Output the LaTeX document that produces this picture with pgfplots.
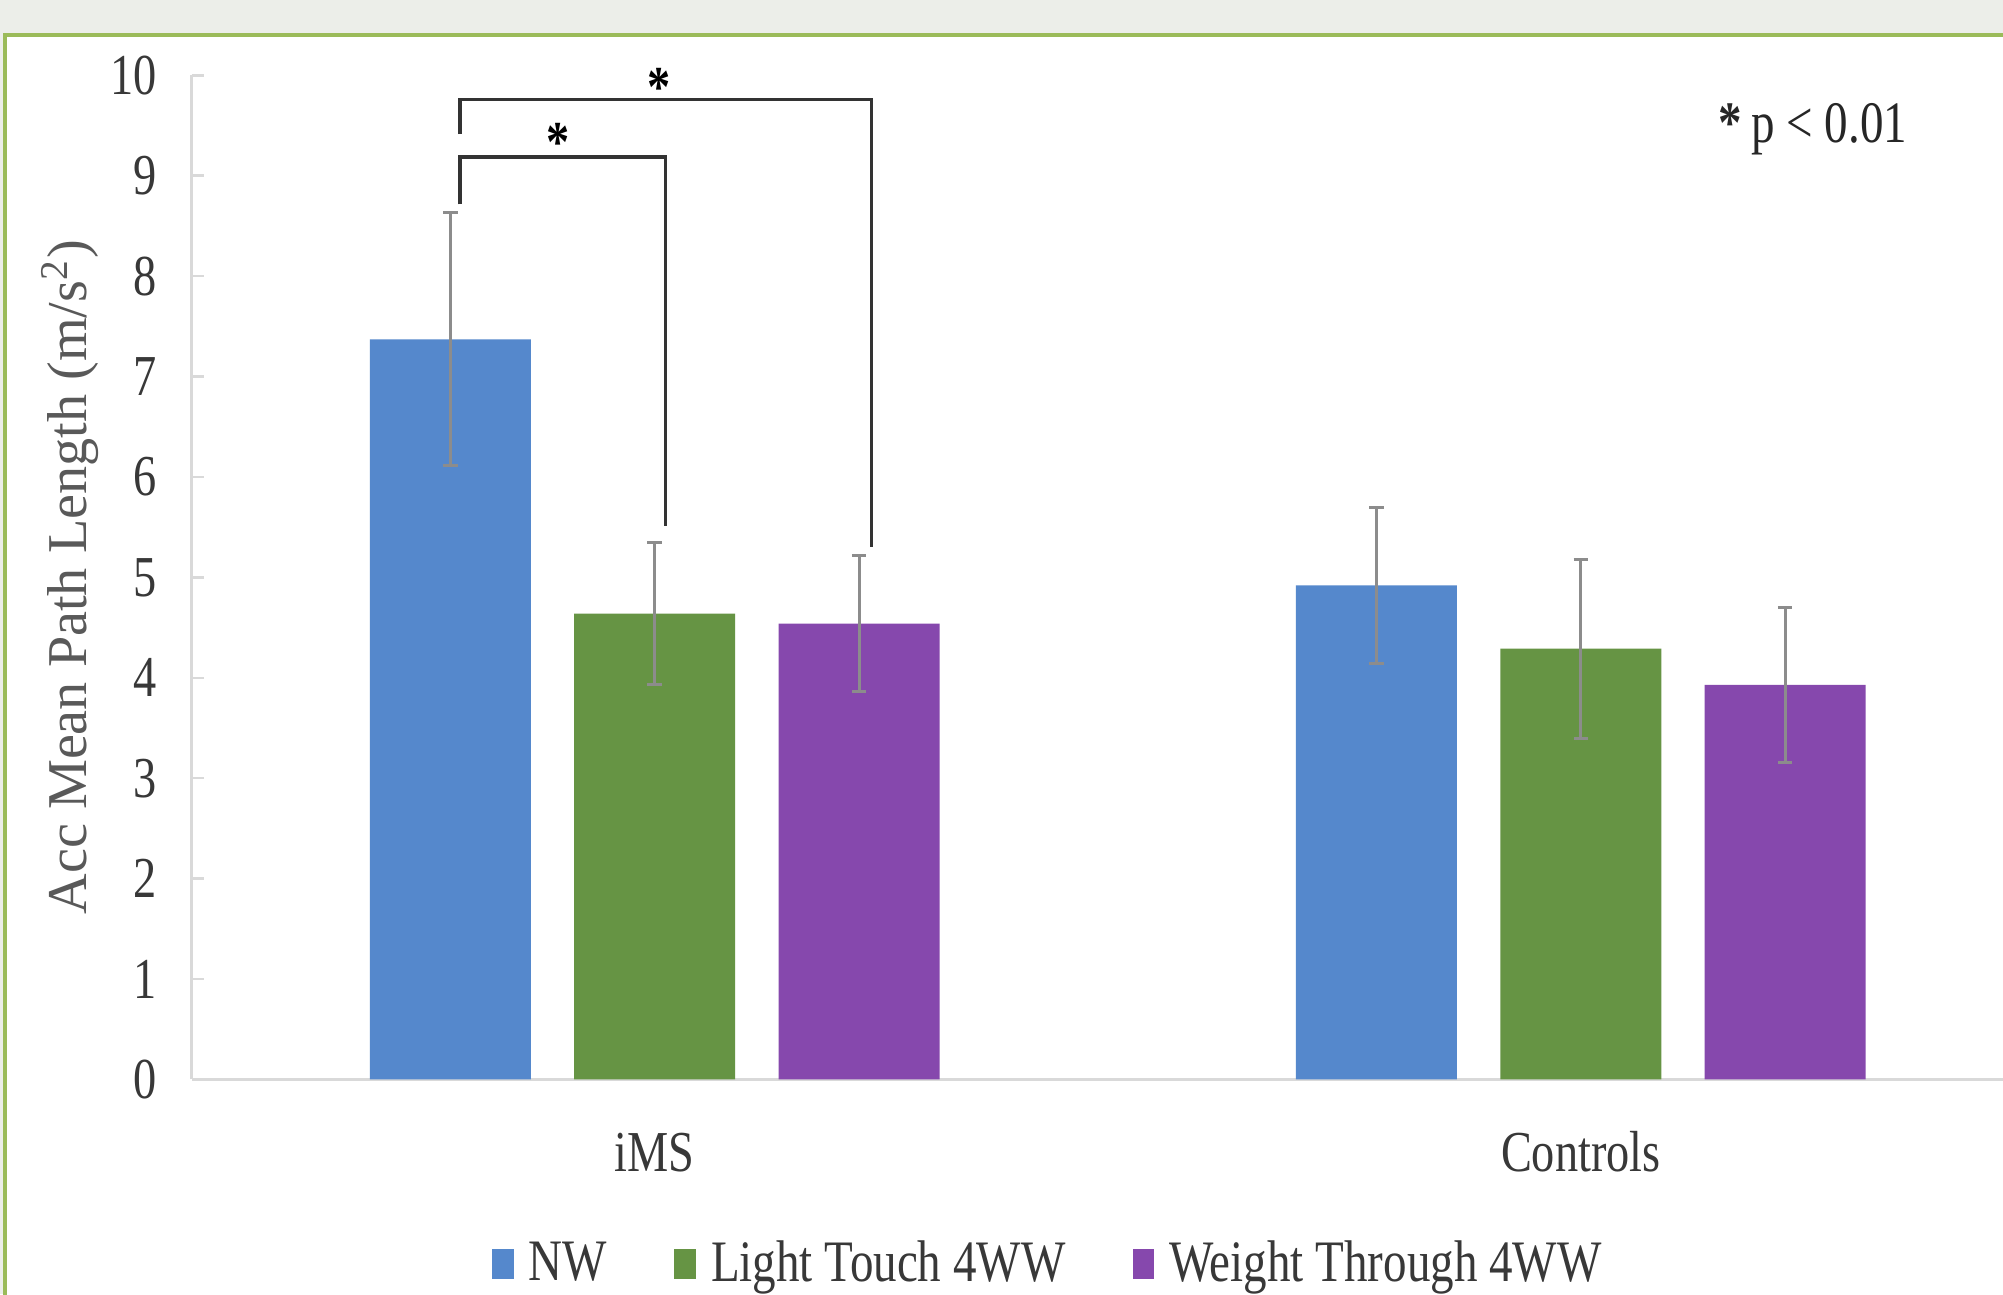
\documentclass[border=0pt]{standalone}
\usepackage{fontspec}
\setmainfont[FakeStretch=0.8]{Liberation Serif}
\newfontfamily\ylabfont{Liberation Serif}
\usepackage{pgfplots}
\pgfplotsset{compat=1.18}
\definecolor{bggray}{HTML}{ECEEE9}
\definecolor{framegreen}{HTML}{9BBB59}
\definecolor{cNW}{HTML}{5588CC}
\definecolor{cLT}{HTML}{669444}
\definecolor{cWT}{HTML}{8648AD}
\definecolor{txt}{HTML}{383838}
\definecolor{ylgray}{HTML}{595959}
\definecolor{axgray}{HTML}{D9D9D9}
\definecolor{errgray}{HTML}{8C8C8C}
\newcommand{\fs}{\fontsize{13.6pt}{15pt}\selectfont}
\begin{document}
\begin{tikzpicture}
\useasboundingbox (0,0) rectangle (470.4pt,303.9pt);
\fill[bggray] (0,0) rectangle (470.4pt,303.9pt);
\fill[white] (1.2pt,-2pt) rectangle (472pt,295.7pt);
\draw[framegreen, line width=0.8pt] (1.2pt,-2pt) -- (1.2pt,295.7pt) -- (472pt,295.7pt);
\begin{axis}[
  at={(45pt,50.4pt)}, anchor=south west,
  scale only axis, width=425.4pt, height=235.8pt,
  xmin=-0.5, xmax=1.4559, ymin=0, ymax=10,
  clip=false,
  axis x line=bottom, axis y line=left,
  axis line style={axgray, line width=0.6pt, -},
  ybar=10.2pt, bar width=37.8pt,
  xtick={0,1}, xticklabels={iMS, Controls},
  x tick style={draw=none},
  ytick={0,1,...,10},
  tick align=inside, major tick length=3pt,
  y tick style={axgray, line width=0.6pt},
  /pgf/number format/assume math mode=true,
  yticklabel style={font=\fs, text=txt, anchor=east, xshift=-4.6pt},
  xticklabel style={font=\fs, text=txt, anchor=base, yshift=-21.6pt},
  ylabel={\ylabfont Acc Mean Path Length (m/s\textsuperscript{2})},
  ylabel style={at={(axis description cs:-0.067,0.5)}, anchor=center, font=\fontsize{13.2pt}{15pt}\selectfont, text=ylgray},
  legend columns=-1,
  legend style={at={(0.4745,-0.1845)}, anchor=center, draw=none, fill=none,
    font=\fontsize{13.8pt}{15pt}\selectfont, text=txt,
    /tikz/every even column/.append style={column sep=13.8pt}},
  legend image code/.code={\fill[#1] (0pt,-3.3pt) rectangle (5.1pt,3.6pt); \path (6.6pt,0pt);},
  error bars/y dir=both, error bars/y explicit,
  error bars/error bar style={errgray, line width=0.7pt},
  error bars/error mark options={errgray, line width=0.7pt, mark size=1.7pt, rotate=90},
]
\addplot[fill=cNW, draw=none] table[x=x, y=y, y error=e] {
x y e
0 7.37 1.26
1 4.92 0.78
};
\addplot[fill=cLT, draw=none] table[x=x, y=y, y error=e] {
x y e
0 4.64 0.71
1 4.29 0.89
};
\addplot[fill=cWT, draw=none] table[x=x, y=y, y error=e] {
x y e
0 4.54 0.68
1 3.93 0.77
};
\legend{NW, Light Touch 4WW, Weight Through 4WW}
\draw[black!80, line width=0.8pt] (axis cs:-0.2103,8.715) |- (axis cs:0.0117,9.186) -- (axis cs:0.0117,5.509);
\draw[black!80, line width=0.8pt] (axis cs:-0.2103,9.415) |- (axis cs:0.2338,9.758) -- (axis cs:0.2338,5.305);
\node[font=\fs\bfseries, yshift=-2pt] at (axis cs:-0.104,9.415) {*};
\node[font=\fs\bfseries, yshift=-2pt] at (axis cs:0.0048,9.96) {*};
\end{axis}
\node[font=\fontsize{13.8pt}{15pt}\selectfont, text=black!85] at (425.7pt,273.6pt) {{\bfseries *}\,p < 0.01};
\end{tikzpicture}
\end{document}
